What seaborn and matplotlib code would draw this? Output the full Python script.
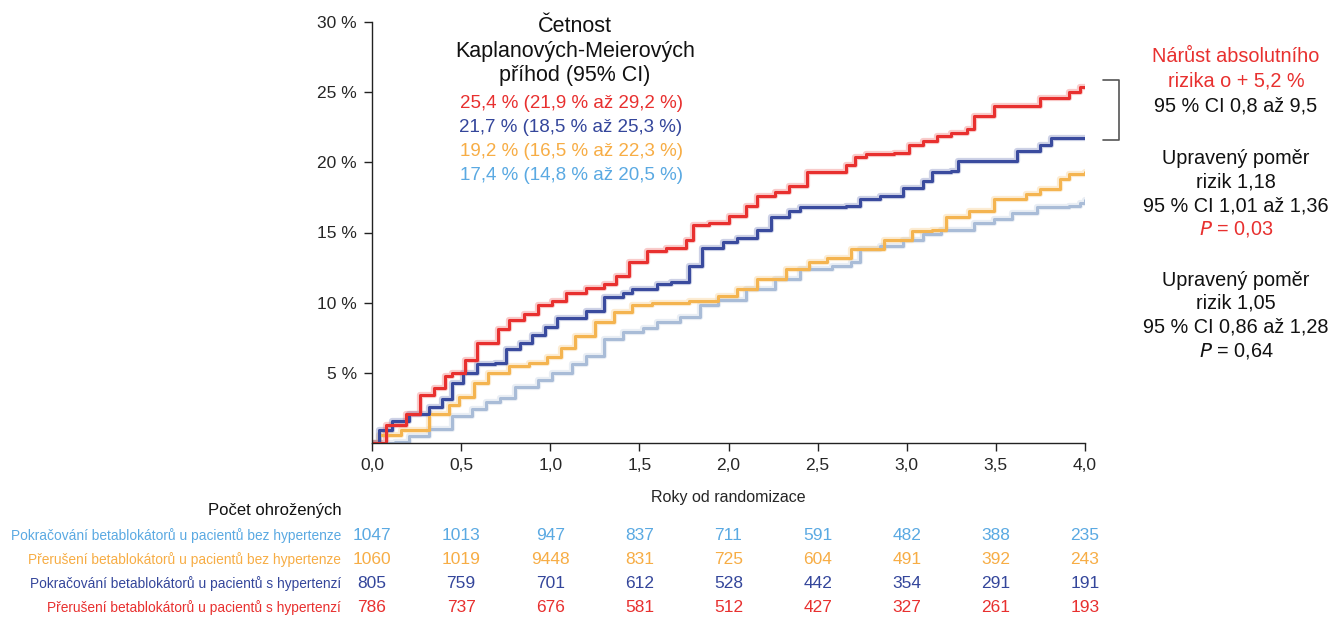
import numpy as np
import pandas as pd
import matplotlib.pyplot as plt
import matplotlib.transforms as mtransforms
import seaborn as sns

sns.set_theme(style="ticks")
plt.rcParams['font.family'] = ['Liberation Sans', 'DejaVu Sans']

# --- data ---
groups = [
    "Pokračování betablokátorů u pacientů bez hypertenze",
    "Přerušení betablokátorů u pacientů bez hypertenze",
    "Pokračování betablokátorů u pacientů s hypertenzí",
    "Přerušení betablokátorů u pacientů s hypertenzí",
]
text_colors = ["#5aa9e2", "#f7ad45", "#34469b", "#e8302f"]
line_colors = ["#a9bcd7", "#f4b450", "#3a4b9e", "#e8302f"]

red_t = [0, 0.08, 0.19, 0.27, 0.35, 0.41, 0.45, 0.52, 0.59, 0.665, 0.705, 0.77, 0.85, 0.93, 1.01,
         1.09, 1.20, 1.30, 1.37, 1.44, 1.54, 1.65, 1.76, 1.80, 1.89, 2.0, 2.10, 2.16, 2.26, 2.34,
         2.44, 2.58, 2.66, 2.71, 2.77, 2.93, 3.01, 3.09, 3.17, 3.25, 3.34, 3.38, 3.49, 3.70, 3.75,
         3.83, 3.91, 3.97, 4.0]
red_y = [0, 1.3, 2.1, 3.45, 3.9, 4.8, 5.0, 5.95, 7.1, 7.1, 8.1, 8.8, 9.2, 9.8, 10.1,
         10.7, 11.05, 11.3, 11.9, 12.9, 13.7, 13.9, 14.5, 15.5, 15.7, 16.2, 16.9, 17.6, 17.9, 18.3,
         19.3, 19.3, 19.8, 20.4, 20.6, 20.7, 21.2, 21.5, 21.9, 22.1, 22.4, 23.3, 24.0, 24.0, 24.6,
         24.6, 25.0, 25.4, 25.4]

blue_t = [0, 0.04, 0.11, 0.21, 0.32, 0.39, 0.45, 0.51, 0.59, 0.69, 0.75, 0.83, 0.90, 0.97, 1.04,
          1.20, 1.30, 1.41, 1.46, 1.60, 1.68, 1.78, 1.85, 1.97, 2.05, 2.16, 2.24, 2.34, 2.40, 2.66,
          2.74, 2.85, 2.98, 3.09, 3.14, 3.25, 3.29, 3.59, 3.62, 3.75, 3.81, 4.0]
blue_y = [0, 0.95, 1.55, 2.1, 2.6, 3.1, 4.3, 5.0, 5.6, 5.7, 6.7, 7.1, 7.7, 8.3, 8.9,
          9.4, 10.4, 10.7, 11.0, 11.3, 11.5, 12.6, 13.9, 14.3, 14.6, 15.2, 16.1, 16.5, 16.8, 16.9,
          17.4, 17.6, 18.2, 18.7, 19.3, 19.4, 20.1, 20.1, 20.8, 21.2, 21.7, 21.7]

orange_t = [0, 0.04, 0.16, 0.32, 0.43, 0.49, 0.57, 0.65, 0.77, 0.88, 0.98, 1.06, 1.14, 1.25, 1.36,
            1.46, 1.57, 1.78, 1.94, 2.05, 2.16, 2.32, 2.45, 2.55, 2.69, 2.87, 3.03, 3.14, 3.22, 3.35,
            3.49, 3.67, 3.75, 3.86, 3.91, 4.0]
orange_y = [0, 0.6, 0.95, 2.1, 2.7, 3.3, 4.3, 5.0, 5.5, 5.7, 6.1, 6.8, 7.6, 8.6, 9.3,
            9.8, 10.0, 10.1, 10.5, 10.95, 11.7, 12.4, 12.9, 13.2, 13.8, 14.5, 15.1, 15.2, 16.1, 16.5,
            17.4, 17.75, 18.1, 18.8, 19.2, 19.3]

lblue_t = [0, 0.13, 0.21, 0.32, 0.45, 0.56, 0.64, 0.72, 0.80, 0.93, 1.01, 1.12, 1.20, 1.30, 1.41,
           1.52, 1.60, 1.73, 1.84, 1.94, 2.10, 2.26, 2.40, 2.58, 2.69, 2.74, 2.85, 2.98, 3.09, 3.19,
           3.38, 3.49, 3.59, 3.73, 3.91, 3.97, 4.0]
lblue_y = [0, 0.1, 0.5, 1.0, 1.9, 2.4, 2.9, 3.2, 4.0, 4.5, 5.0, 5.6, 6.2, 7.4, 7.9,
           8.2, 8.6, 9.0, 9.8, 10.2, 11.0, 11.7, 12.4, 12.6, 12.9, 13.8, 14.05, 14.5, 14.9, 15.2,
           15.7, 15.95, 16.4, 16.8, 16.9, 17.1, 17.3]

km_labels = ["25,4 % (21,9 % až 29,2 %)", "21,7 % (18,5 % až 25,3 %)",
             "19,2 % (16,5 % až 22,3 %)", "17,4 % (14,8 % až 20,5 %)"]

risk_times = [0, 0.5, 1.0, 1.5, 2.0, 2.5, 3.0, 3.5, 4.0]
risk_lblue = [1047, 1013, 947, 837, 711, 591, 482, 388, 235]
risk_orange = [1060, 1019, 9448, 831, 725, 604, 491, 392, 243]
risk_blue = [805, 759, 701, 612, 528, 442, 354, 291, 191]
risk_red = [786, 737, 676, 581, 512, 427, 327, 261, 193]

# long-form table for seaborn
df = pd.concat([
    pd.DataFrame({"t": lblue_t, "y": lblue_y, "g": groups[0]}),
    pd.DataFrame({"t": orange_t, "y": orange_y, "g": groups[1]}),
    pd.DataFrame({"t": blue_t, "y": blue_y, "g": groups[2]}),
    pd.DataFrame({"t": red_t, "y": red_y, "g": groups[3]}),
])
pal = dict(zip(groups, line_colors))

fig = plt.figure(figsize=(13.44, 6.19), dpi=100)
ax = fig.add_axes([372 / 1344, 1 - 443 / 619, 713 / 1344, 421 / 619])

# soft halo under each curve, then the step curve itself
sns.lineplot(data=df, x="t", y="y", hue="g", palette=pal, sort=False, drawstyle="steps-post",
             linewidth=4.5, alpha=0.25, legend=False, ax=ax, estimator=None)
sns.lineplot(data=df, x="t", y="y", hue="g", palette=pal, sort=False, drawstyle="steps-post",
             linewidth=2.2, legend=False, ax=ax, estimator=None)

ax.set_xlim(0, 4)
ax.set_ylim(0, 30)
ax.set_xticks(risk_times)
ax.set_xticklabels([f"{v:.1f}".replace(".", ",") for v in risk_times], fontsize=12.5)
ax.set_yticks([5, 10, 15, 20, 25, 30])
ax.set_yticklabels([f"{v} %" for v in [5, 10, 15, 20, 25, 30]], fontsize=12.5)
ax.tick_params(axis="both", length=6, width=1, color="#222222", pad=5)
ax.set_xlabel("Roky od randomizace", fontsize=11.5, labelpad=12)
ax.set_ylabel("")
ax.set_facecolor("white")
for s in ["top", "right"]:
    ax.spines[s].set_visible(False)
for s in ["left", "bottom"]:
    ax.spines[s].set_color("#222222")
    ax.spines[s].set_linewidth(1)


def fy(py):
    return 1 - py / 619


def fx(px):
    return px / 1344


# legend block
for txt, py in zip(["Četnost", "Kaplanových-Meierových", "příhod (95% CI)"], [27, 51, 76]):
    fig.text(fx(575), fy(py), txt, ha="center", va="center", fontsize=15.5, color="#111111")
for txt, c, py in zip(km_labels, [text_colors[3], text_colors[2], text_colors[1], text_colors[0]],
                      [104, 128, 152, 176]):
    fig.text(fx(571), fy(py), txt, ha="center", va="center", fontsize=13.5, color=c)

# bracket between red and blue end points
ax.plot([4.1, 4.19, 4.19, 4.1], [25.9, 25.9, 21.6, 21.6], color="#555555", lw=1.2, clip_on=False)

# right-hand annotations
right = [
    ("Nárůst absolutního", 57, "#e8302f"),
    ("rizika o + 5,2 %", 81, "#e8302f"),
    ("95 % CI 0,8 až 9,5", 106, "#111111"),
    ("Upravený poměr", 158, "#111111"),
    ("rizik 1,18", 182, "#111111"),
    ("95 % CI 1,01 až 1,36", 206, "#111111"),
    ("$\\mathit{P}$ = 0,03", 229, "#e8302f"),
    ("Upravený poměr", 280, "#111111"),
    ("rizik 1,05", 303, "#111111"),
    ("95 % CI 0,86 až 1,28", 327, "#111111"),
    ("$\\mathit{P}$ = 0,64", 351, "#111111"),
]
for txt, py, c in right:
    fig.text(fx(1236), fy(py), txt, ha="center", va="center", fontsize=14.3, color=c)

# number at risk table
fig.text(fx(342), fy(510), "Počet ohrožených", ha="right", va="center", fontsize=12, color="#111111")
rows = [risk_lblue, risk_orange, risk_blue, risk_red]
tr = mtransforms.blended_transform_factory(ax.transData, fig.transFigure)
for i, (name, vals, c) in enumerate(zip(groups, rows, text_colors)):
    py = 536 + 24 * i
    fig.text(fx(341), fy(py), name, ha="right", va="center", fontsize=9.9, color=c)
    for t, v in zip(risk_times, vals):
        ax.text(t, fy(py), str(v), ha="center", va="center", fontsize=12.5, color=c,
                transform=tr, clip_on=False)

fig.savefig("out.png", dpi=100, facecolor="white")
